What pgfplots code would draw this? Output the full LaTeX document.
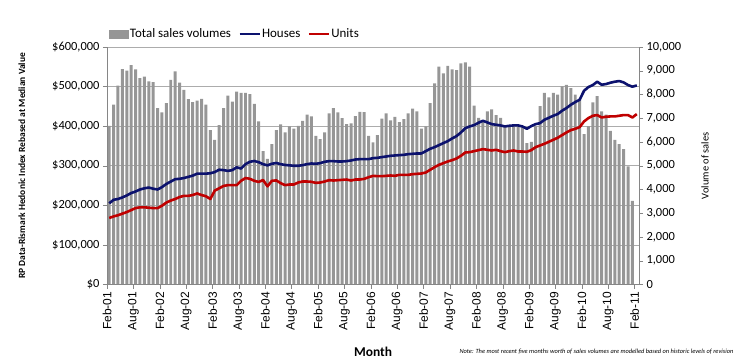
\documentclass[border=0pt]{standalone}
\usepackage{pgfplots}
\pgfplotsset{compat=1.18}
\usepackage{pgfplotstable}
\usepackage{fontspec}
\setmainfont{Carlito}
\newfontfamily\arialf{Liberation Sans}
\definecolor{barcol}{RGB}{150,150,150}
\definecolor{housecol}{RGB}{12,18,110}
\definecolor{unitcol}{RGB}{192,0,0}
\definecolor{axcol}{RGB}{134,134,134}
\definecolor{gridcol}{RGB}{172,172,172}

% month index (0 = Feb-01) and total sales volume
\pgfplotstableread{
k vol
0 6680
1 7570
2 8370
3 9070
4 9000
5 9240
6 9060
7 8690
8 8750
9 8550
10 8520
11 7430
12 7250
13 7640
14 8620
15 8970
16 8500
17 8190
18 7810
19 7680
20 7740
21 7820
22 7570
23 6500
24 6090
25 6710
26 7430
27 7950
28 7700
29 8120
30 8070
31 8070
32 8020
33 7610
34 6870
35 5620
36 5290
37 5910
38 6500
39 6740
40 6400
41 6660
42 6560
43 6680
44 6890
45 7150
46 7080
47 6260
48 6120
49 6400
50 7200
51 7430
52 7250
53 7010
54 6750
55 6780
56 7090
57 7270
58 7260
59 6260
60 5980
61 6290
62 6980
63 7200
64 6910
65 7060
66 6840
67 6960
68 7200
69 7400
70 7290
71 6560
72 6660
73 7640
74 8470
75 9170
76 8890
77 9200
78 9060
79 9030
80 9310
81 9350
82 9170
83 7530
84 7020
85 6920
86 7290
87 7370
88 7130
89 7020
90 6670
91 6700
92 6710
93 6700
94 6640
95 5950
96 6010
97 6660
98 7510
99 8070
100 7880
101 8070
102 7990
103 8340
104 8400
105 8270
106 7990
107 7810
108 6330
109 6670
110 7670
111 7930
112 7290
113 7150
114 6470
115 6090
116 5910
117 5700
118 4970
119 3520
}\volumes

% month index, houses and units index (thousands of dollars)
\pgfplotstableread{
k houses units
0 205 168
1 214 172
2 216 175
3 220 179
4 225 183
5 231 188
6 235 193
7 240 195
8 243 195
9 245 194
10 242 193
11 240 193
12 246 199
13 254 207
14 260 212
15 266 216
16 267 221
17 269 224
18 272 224
19 275 226
20 280 230
21 280 226
22 280 223
23 281 216
24 284 237
25 290 243
26 289 249
27 287 251
28 289 251
29 296 251
30 293 262
31 304 269
32 310 267
33 312 262
34 309 259
35 304 264
36 301 248
37 305 262
38 307 263
39 304 256
40 302 251
41 301 252.6
42 300 252.6
43 300 257.7
44 301.5 260.2
45 304 260.2
46 305.7 259.4
47 305 256.8
48 306.6 257.7
49 310 260.2
50 311.6 263.6
51 311.6 262.7
52 310.8 263.6
53 310.8 264.4
54 311.6 265.2
55 313.3 262.7
56 315.8 265.2
57 316.7 265.2
58 316.7 266.9
59 316.7 271
60 319.2 274.5
61 320 273.7
62 321.8 273.7
63 323.4 274.5
64 325.1 275.4
65 326 274.5
66 326.8 277
67 327.6 277
68 329.3 277
69 330.2 278.7
70 331 279.6
71 331 280.4
72 336.9 283
73 342.8 289.7
74 347 296.4
75 352.1 302.3
76 357.2 306.6
77 362.2 310.8
78 369 314.1
79 374.9 318.4
80 384.1 325.1
81 395.1 333.5
82 399.3 334.4
83 402.7 336.9
84 408.6 339.5
85 413.6 342
86 409.4 340.3
87 405.2 338.6
88 403.5 340.3
89 401.9 336.9
90 399.3 334.4
91 401 336.9
92 401.9 338.6
93 401.9 336
94 399.3 336
95 393.4 335.2
96 400.2 339.5
97 405.2 347
98 407.7 351.3
99 416.2 355.5
100 421.2 360.5
101 426.3 365.6
102 430.5 370.6
103 439 377.4
104 445.7 384.1
105 454.1 390
106 460.9 393.4
107 466.8 397.6
108 489.5 412
109 498.8 420.4
110 503.9 426.3
111 512.3 428
112 504.7 422
113 506.4 423.8
114 509.8 424.6
115 512.3 424.6
116 514 426.3
117 510.6 428
118 503.9 428
119 499.7 422
120 503 430.5
}\prices

\begin{document}
\begin{tikzpicture}
\path[use as bounding box] (-107bp,-79.5bp) rectangle (644bp,284.5bp);
% bars on the right-hand axis
\begin{axis}[
  at={(0,0)}, anchor=south west,
  scale only axis, width=532bp, height=237.5bp,
  xmin=0, xmax=121, ymin=0, ymax=10000,
  scaled y ticks=false,
  axis x line=none,
  axis y line*=right,
  axis line style={axcol},
  tick style={axcol, thin},
  tick align=outside, major tick length=4bp,
  ytick={0,1000,...,10000},
  yticklabels={0,{1,000},{2,000},{3,000},{4,000},{5,000},{6,000},{7,000},{8,000},{9,000},{10,000}},
  yticklabel style={font=\fontsize{12.5}{14}\selectfont},
  extra y ticks={1666.667,3333.333,5000,6666.667,8333.333,10000},
  extra y tick labels={},
  extra y tick style={grid=major, major tick length=0pt},
  grid style={gridcol, line width=0.6bp},
  ylabel={Volume of sales},
  ylabel style={at={(axis description cs:1.124,0.5)}, anchor=center, font=\fontsize{10.5}{12}\selectfont},
]
\addplot[ybar, bar width=0.68, fill=barcol, draw=none]
  table[x expr=\thisrow{k}+0.5, y=vol] {\volumes};
\end{axis}
% lines on the left-hand axis
\begin{axis}[
  at={(0,0)}, anchor=south west,
  scale only axis, width=532bp, height=237.5bp,
  xmin=0, xmax=121, ymin=0, ymax=600,
  clip mode=individual,
  axis x line*=bottom, axis y line*=left,
  axis line style={axcol},
  tick style={axcol, thin},
  tick align=outside, major tick length=4bp,
  xtick={0,6,...,120},
  xticklabels={Feb-01,Aug-01,Feb-02,Aug-02,Feb-03,Aug-03,Feb-04,Aug-04,Feb-05,Aug-05,Feb-06,Aug-06,Feb-07,Aug-07,Feb-08,Aug-08,Feb-09,Aug-09,Feb-10,Aug-10,Feb-11},
  xticklabel style={rotate=90, anchor=east, font=\arialf\fontsize{12}{14}\selectfont},
  ytick={0,100,...,600},
  yticklabels={{\$0},{\$100,000},{\$200,000},{\$300,000},{\$400,000},{\$500,000},{\$600,000}},
  yticklabel style={font=\fontsize{12.5}{14}\selectfont},
  xlabel={Month},
  xlabel style={at={(axis description cs:0.5,-0.284)}, anchor=center, font=\bfseries\fontsize{13.5}{15}\selectfont},
  ylabel={RP Data-Rismark Hedonic Index Rebased at Median Value},
  ylabel style={at={(axis description cs:-0.16,0.5)}, anchor=center, font=\bfseries\fontsize{9.5}{11}\selectfont},
  legend style={at={(axis description cs:0.004,1.055)}, anchor=west, draw=none, fill=none,
    font=\fontsize{13}{15}\selectfont, inner sep=0pt,
    nodes={inner sep=1.2bp},
    /tikz/every even column/.append style={column sep=6bp}},
  legend columns=3,
  legend image code/.code={\draw[#1] (0bp,0bp) -- (20bp,0bp);},
]
\addlegendimage{legend image code/.code={\fill[barcol] (0bp,-4bp) rectangle (19bp,4bp);}}
\addlegendentry{Total sales volumes}
\addplot[housecol, line width=2.6bp, line join=round]
  table[x expr=\thisrow{k}+0.5, y=houses] {\prices};
\addlegendentry{Houses}
\addplot[unitcol, line width=2.6bp, line join=round]
  table[x expr=\thisrow{k}+0.5, y=units] {\prices};
\addlegendentry{Units}
\node[anchor=west, font=\itshape\fontsize{6.4}{7.5}\selectfont] at (axis description cs:0.656,-0.284)
  {Note: The most recent five months worth of sales volumes are modelled based on historic levels of revision};
\end{axis}
\end{tikzpicture}
\end{document}
